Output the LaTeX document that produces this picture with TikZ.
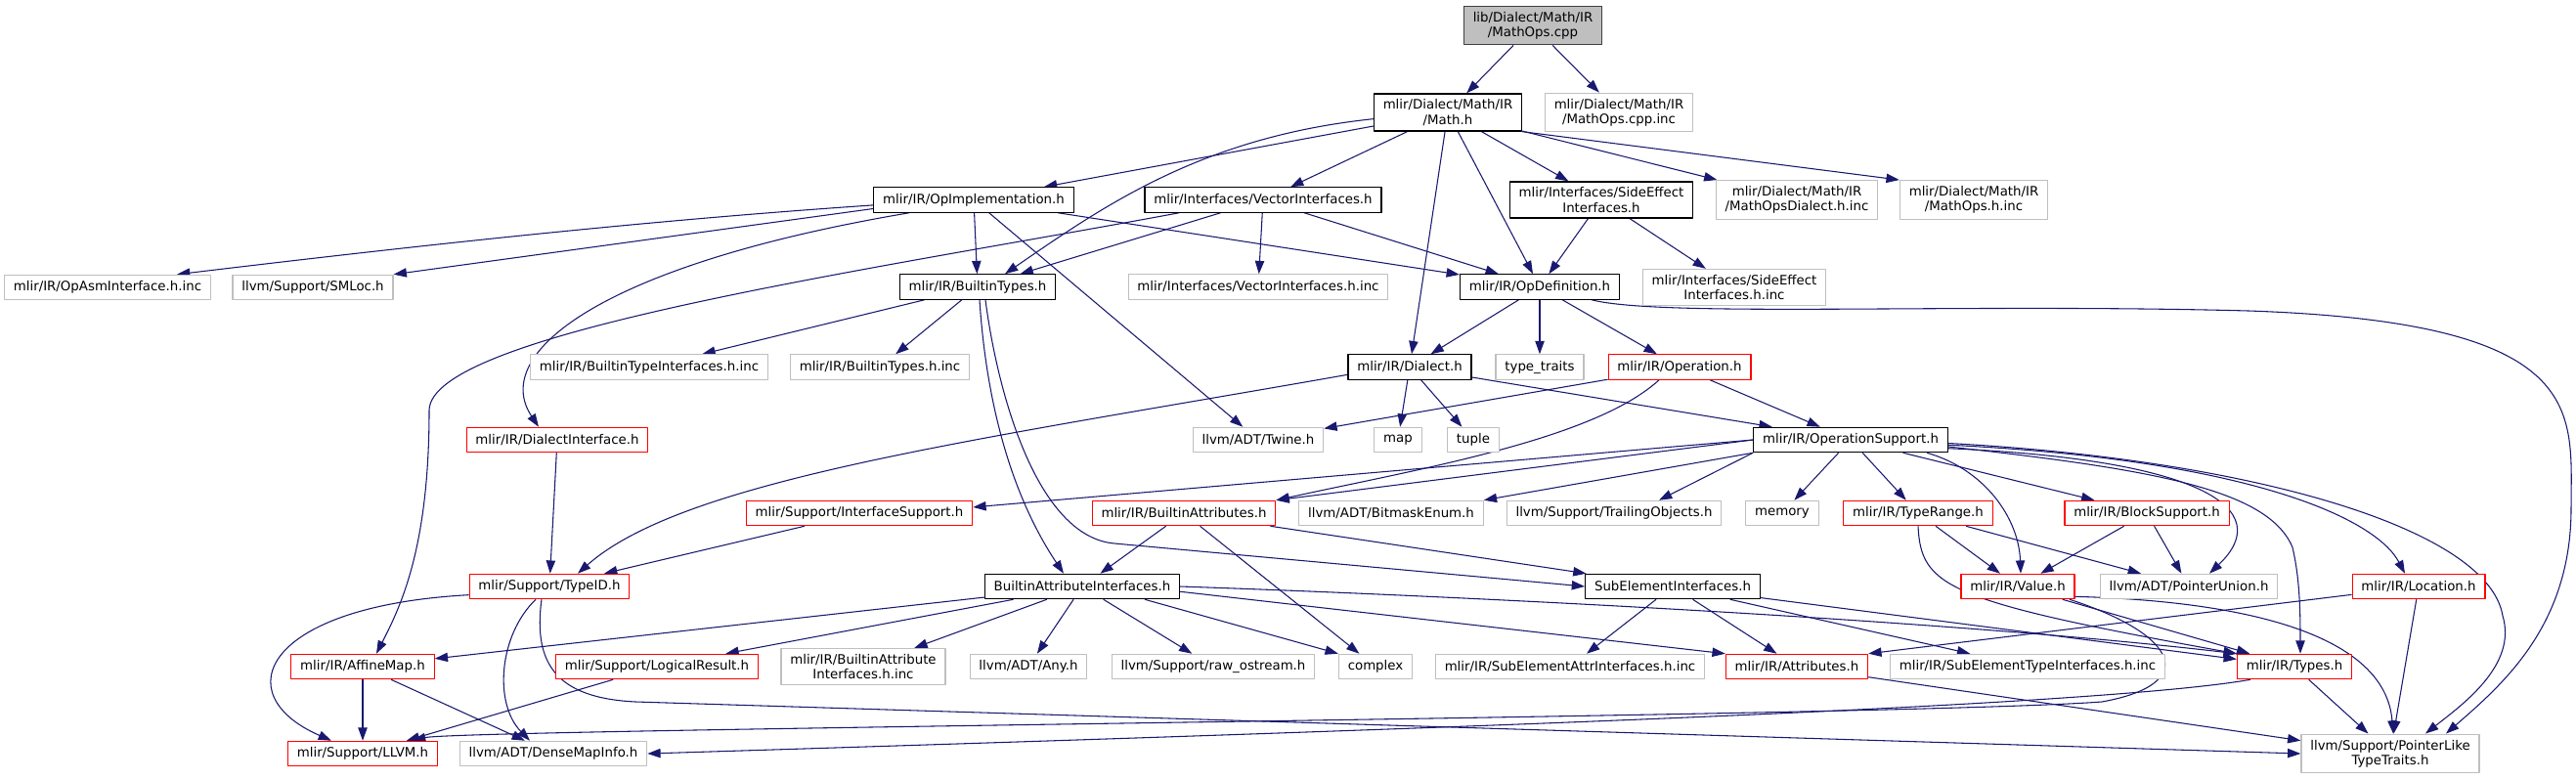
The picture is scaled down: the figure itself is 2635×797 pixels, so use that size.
\documentclass[tikz,border=0pt]{standalone}
\usepackage{fontspec}
\setmainfont{DejaVu Sans}
\usetikzlibrary{arrows.meta,backgrounds}
\definecolor{midblue}{HTML}{191970}
\begin{document}
\begin{tikzpicture}[
	x=0.75pt, y=-0.75pt,
	line join=round,
	line cap=round,
	bx/.style={draw, fill=white, line width=0.9pt, align=center,
		font=\fontsize{10}{11.5}\selectfont, inner xsep=7pt, inner ysep=4.3pt,
		minimum height=19pt},
	hdr/.style={bx, draw=black},
	sys/.style={bx, draw=gray!50},
	redb/.style={bx, draw=red},
	cur/.style={bx, draw=black!75, fill=gray!50},
	dep/.style={draw=midblue, line width=0.8pt, -{Triangle[length=10pt,width=7pt]}}
	]
	\useasboundingbox (0,0) rectangle (2635,797);
	\node[cur] (cpp) at (1568,26) {lib/Dialect/Math/IR\\/MathOps.cpp};
	\node[hdr] (mathh) at (1481,115) {mlir/Dialect/Math/IR\\/Math.h};
	\node[sys] (cppinc) at (1656,115) {mlir/Dialect/Math/IR\\/MathOps.cpp.inc};
	\node[hdr] (opimpl) at (996,204.5) {mlir/IR/OpImplementation.h};
	\node[hdr] (vecif) at (1292,204.5) {mlir/Interfaces/VectorInterfaces.h};
	\node[hdr] (sideef) at (1638,204.5) {mlir/Interfaces/SideEffect\\Interfaces.h};
	\node[sys] (dialinc) at (1838,204.5) {mlir/Dialect/Math/IR\\/MathOpsDialect.h.inc};
	\node[sys] (opsinc) at (2019,204.5) {mlir/Dialect/Math/IR\\/MathOps.h.inc};
	\node[sys] (asminc) at (110,294) {mlir/IR/OpAsmInterface.h.inc};
	\node[sys] (smloc) at (320,294) {llvm/Support/SMLoc.h};
	\node[hdr] (btypes) at (1000,293.5) {mlir/IR/BuiltinTypes.h};
	\node[sys] (vecinc) at (1287,293.5) {mlir/Interfaces/VectorInterfaces.h.inc};
	\node[hdr] (opdef) at (1575,293.5) {mlir/IR/OpDefinition.h};
	\node[sys] (sideinc) at (1774,294) {mlir/Interfaces/SideEffect\\Interfaces.h.inc};
	\node[sys] (btiinc) at (664,375.5) {mlir/IR/BuiltinTypeInterfaces.h.inc};
	\node[sys] (btinc) at (900,375.5) {mlir/IR/BuiltinTypes.h.inc};
	\node[hdr] (dialect) at (1442,375.5) {mlir/IR/Dialect.h};
	\node[sys] (ttraits) at (1575,375.5) {type\_traits};
	\node[redb] (operation) at (1718,375.5) {mlir/IR/Operation.h};
	\node[redb] (dialif) at (570,450) {mlir/IR/DialectInterface.h};
	\node[sys] (twine) at (1287,450) {llvm/ADT/Twine.h};
	\node[sys] (map) at (1430,450) {map};
	\node[sys] (tuple) at (1507,450) {tuple};
	\node[hdr] (opsupp) at (1893,450) {mlir/IR/OperationSupport.h};
	\node[redb] (ifsupp) at (879,525) {mlir/Support/InterfaceSupport.h};
	\node[redb] (battrs) at (1211,525) {mlir/IR/BuiltinAttributes.h};
	\node[sys] (bitmask) at (1423,525) {llvm/ADT/BitmaskEnum.h};
	\node[sys] (trailing) at (1651,525) {llvm/Support/TrailingObjects.h};
	\node[sys] (memory) at (1823,525) {memory};
	\node[redb] (trange) at (1962,525) {mlir/IR/TypeRange.h};
	\node[redb] (block) at (2196,525) {mlir/IR/BlockSupport.h};
	\node[redb] (typeid) at (562,600) {mlir/Support/TypeID.h};
	\node[hdr] (baif) at (1107,600) {BuiltinAttributeInterfaces.h};
	\node[hdr] (subel) at (1711,600) {SubElementInterfaces.h};
	\node[redb] (value) at (2064,600) {mlir/IR/Value.h};
	\node[sys] (punion) at (2239,600) {llvm/ADT/PointerUnion.h};
	\node[redb] (location) at (2474,600) {mlir/IR/Location.h};
	\node[redb] (affine) at (371,682) {mlir/IR/AffineMap.h};
	\node[redb] (logical) at (672,682) {mlir/Support/LogicalResult.h};
	\node[sys] (baifinc) at (883,682) {mlir/IR/BuiltinAttribute\\Interfaces.h.inc};
	\node[sys] (any) at (1052,682) {llvm/ADT/Any.h};
	\node[sys] (rawos) at (1241,682) {llvm/Support/raw\_ostream.h};
	\node[sys] (complex) at (1407,682) {complex};
	\node[sys] (seattr) at (1606,682) {mlir/IR/SubElementAttrInterfaces.h.inc};
	\node[redb] (attrs) at (1838,682) {mlir/IR/Attributes.h};
	\node[sys] (setype) at (2074,682) {mlir/IR/SubElementTypeInterfaces.h.inc};
	\node[redb] (types) at (2347,682) {mlir/IR/Types.h};
	\node[redb] (llvmh) at (371,771) {mlir/Support/LLVM.h};
	\node[sys] (dmi) at (566,771) {llvm/ADT/DenseMapInfo.h};
	\node[sys] (plt) at (2445,771) {llvm/Support/PointerLike\\TypeTraits.h};
	\begin{pgfonlayer}{background}
		\foreach \a/\b in {cpp/mathh, cpp/cppinc, mathh/opimpl, mathh/vecif, mathh/dialect,
			mathh/opdef, mathh/sideef, mathh/dialinc, opimpl/btypes, opimpl/twine, opimpl/opdef,
			vecif/btypes, vecif/vecinc, vecif/opdef, sideef/opdef, sideef/sideinc,
			btypes/btiinc, btypes/btinc, opdef/dialect, opdef/ttraits, opdef/operation,
			dialect/map, dialect/tuple, dialect/opsupp, operation/twine, operation/opsupp,
			opsupp/memory, opsupp/trange, opsupp/block, ifsupp/typeid, battrs/baif,
			battrs/complex, battrs/subel, baif/affine, baif/logical, baif/baifinc, baif/any,
			baif/rawos, subel/seattr, subel/attrs, subel/setype, subel/types, value/types,
			types/plt, attrs/plt, affine/llvmh, affine/dmi, logical/llvmh, dialif/typeid,
			trange/value, trange/punion, block/value, block/punion, location/plt}
		\draw[dep] (\a) -- (\b);
		\draw[dep] (mathh.south east) -- (opsinc.north west);
		\draw[dep] (opimpl.185) -- (smloc.north east);
		\draw[dep] (opsupp.west) -- (ifsupp.3);
		\draw[dep] (opsupp.west) -- (battrs.north east);
		\draw[dep] (opsupp.south west) -- (bitmask.north east);
		\draw[dep] (opsupp.south west) -- (1697,0 |- trailing.north);
		\draw[dep] (1171,0 |- baif.south) -- (complex.north west);
		\draw[dep] (baif.-3) -- (attrs.north west);
		\draw[dep] (location) -- (attrs.north east);
		\draw[dep] (opimpl.183) .. controls (655,226) and (421,252) .. (181,0 |- asminc.north);
		\draw[dep] (mathh.185) .. controls (1230,140) and (1130,210) .. (1028,0 |- btypes.north);
		\draw[dep] (930,0 |- opimpl.south) .. controls (620,270) and (500,360) .. (551,0 |- dialif.north);
		\draw[dep] (1206,0 |- vecif.south) .. controls (900,275) and (439,340) .. (439,420)
			.. controls (439,560) and (410,620) .. (385,0 |- affine.north);
		\draw[dep] (1002,0 |- btypes.south) .. controls (1008,400) and (1030,500) .. (1088,0 |- baif.north);
		\draw[dep] (1008,0 |- btypes.south) .. controls (1020,400) and (1060,549) .. (1140,556) -- (subel.west);
		\draw[dep] (1628,0 |- opdef.south) .. controls (1700,325) and (2000,310) .. (2300,318)
			.. controls (2650,330) and (2630,420) .. (2630,520)
			.. controls (2630,640) and (2560,700) .. (2502,0 |- plt.north);
		\draw[dep] (dialect.187) .. controls (1000,450) and (700,490) .. (591,0 |- typeid.north);
		\draw[dep] (1697,0 |- operation.south) .. controls (1630,450) and (1450,480) .. (battrs.north east);
		\draw[dep] (1971,0 |- opsupp.south) .. controls (2030,480) and (2065,530) .. (2067,0 |- value.north);
		\draw[dep] (opsupp.-5) .. controls (2250,470) and (2330,520) .. (2260,0 |- punion.north);
		\draw[dep] (opsupp.-4) .. controls (2200,480) and (2320,500) .. (2345,560)
			.. controls (2352,590) and (2353,620) .. (2353,0 |- types.north);
		\draw[dep] (opsupp.-3) .. controls (2300,470) and (2430,530) .. (2460,0 |- location.north);
		\draw[dep] (opsupp.-2) .. controls (2300,470) and (2545,540) .. (2560,630)
			.. controls (2575,680) and (2520,720) .. (2481,0 |- plt.north);
		\draw[dep] (value.-10) .. controls (2300,615) and (2440,650) .. (2448,0 |- plt.north);
		\draw[dep] (2117,0 |- value.south) .. controls (2230,650) and (2250,700) .. (2150,718)
			.. controls (1950,733) and (470,746) .. (422,0 |- llvmh.north);
		\draw[dep] (2302,0 |- types.south) .. controls (2150,722) and (1500,745) .. (dmi.east);
		\draw[dep] (baif.east) .. controls (1500,610) and (2000,635) .. (types.north west);
		\draw[dep] (trange.south) .. controls (1965,600) and (1990,615) .. (types.north west);
		\draw[dep] (typeid.186) .. controls (270,620) and (230,710) .. (339,0 |- llvmh.north);
		\draw[dep] (548,0 |- typeid.south) .. controls (510,650) and (505,720) .. (542,0 |- dmi.north);
		\draw[dep] (554,0 |- typeid.south) .. controls (545,680) and (570,714) .. (650,718) -- (plt.west);
	\end{pgfonlayer}
\end{tikzpicture}
\end{document}
